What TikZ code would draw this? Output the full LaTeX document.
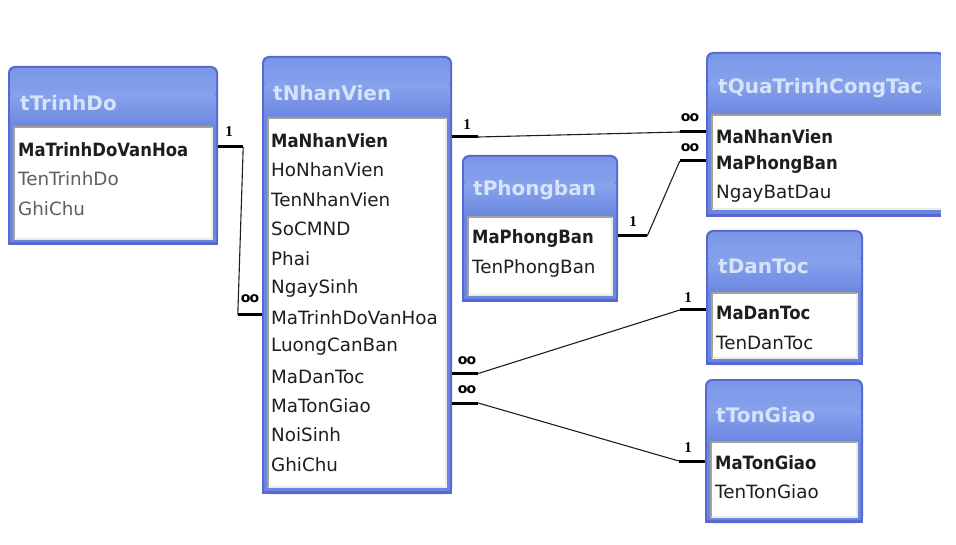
\documentclass[tikz,border=0pt]{standalone}
\usepackage{fontspec}
\newfontfamily\dv{DejaVu Sans}
\newfontfamily\lserif{Liberation Serif}
\definecolor{boxedge}{RGB}{88,104,208}
\definecolor{boxblue}{RGB}{108,134,224}
\definecolor{titletop}{RGB}{122,150,232}
\definecolor{titlemid}{RGB}{134,162,236}
\definecolor{titletxt}{RGB}{214,228,250}
\definecolor{insetgray}{RGB}{165,160,145}
\definecolor{insetlight}{RGB}{236,236,226}
\definecolor{fieldtxt}{RGB}{30,30,30}
\definecolor{fieldgray}{RGB}{95,95,95}
\definecolor{linkcol}{RGB}{30,30,30}
\tikzset{
  ttl/.style={anchor=west, inner sep=0pt, text=titletxt, font=\dv\bfseries\fontsize{20}{22}\selectfont},
  fld/.style={anchor=west, inner sep=0pt, text=fieldtxt, font=\dv\fontsize{18.3}{20}\selectfont},
  fldg/.style={fld, text=fieldgray},
  stub/.style={line width=3pt, black},
  link/.style={line width=1.1pt, linkcol},
  one/.style={inner sep=0pt, font=\lserif\bfseries\fontsize{15}{15}\selectfont},
  many/.style={inner sep=0pt, font=\dv\bfseries\fontsize{14}{14}\selectfont},
}
% #1 name, #2 x1, #3 y1, #4 x2, #5 y2, #6 inner x1, #7 inner y1, #8 inner x2, #9 inner y2
\newcommand\dbtable[9]{%
  \fill[boxedge, rounded corners=7pt] (#2,#3) rectangle (#4,#5);
  \fill[boxedge] (#2,{#5-12}) rectangle (#4,#5);
  \fill[boxblue, rounded corners=6pt] ({#2+2},{#3+2}) rectangle ({#4-2},{#5-3});
  \fill[boxblue] ({#2+2},{#5-12}) rectangle ({#4-2},{#5-3});
  \shade[top color=titletop, bottom color=titlemid, rounded corners=6pt] ({#2+2},{#3+2}) rectangle ({#4-2},{(#3+#7)/2});
  \shade[top color=titlemid, bottom color=boxblue] ({#2+2},{(#3+#7)/2-1}) rectangle ({#4-2},{#7});
  \fill[white] (#6,#7) rectangle (#8,#9);
  \draw[insetlight, line width=1.5pt] (#6,#9) -- (#8,#9) -- (#8,#7);
  \draw[insetgray, line width=2pt] (#6,#9) -- (#6,#7) -- (#8,#7);
  \node[minimum width={(#4-#2)*1pt}, minimum height={(#5-#3)*1pt}, inner sep=0pt] (#1) at ({(#2+#4)/2},{(#3+#5)/2}) {};
}
\newcommand\keyf[1]{\scalebox{0.9}[1]{\bfseries #1}}
\newcommand\manysym{o\kern-0.8pt o}
\begin{document}
\begin{tikzpicture}[x=1pt,y=-1pt]
\useasboundingbox (0,0) rectangle (956,545);

% tables
\dbtable{tdo}{8}{66}{218}{245}{14}{127}{212}{239}
\dbtable{nv}{262}{56}{452}{494}{268}{118}{446}{487}
\dbtable{qt}{706}{52}{945}{217}{712}{115}{945}{209}
\dbtable{pb}{462}{155}{618}{302}{468}{217}{612}{295}
\dbtable{dt}{706}{230}{863}{365}{712}{293}{857}{358}
\dbtable{tg}{705}{379}{863}{523}{711}{442}{857}{517}
\fill[white] (941,40) rectangle (956,230);

% titles
\node[ttl] (tdo-t) at (20,103) {tTrinhDo};
\node[ttl] (nv-t) at (273,93) {tNhanVien};
\node[ttl] (qt-t) at (718,88) {tQuaTrinhCongTac};
\node[ttl] (pb-t) at (473,190) {tPhongban};
\node[ttl] (dt-t) at (718,266) {tDanToc};
\node[ttl] (tg-t) at (716,415) {tTonGiao};

% fields tTrinhDo
\node[fld] (tdo1) at (18,150) {\keyf{MaTrinhDoVanHoa}};
\node[fldg] (tdo2) at (18,179) {TenTrinhDo};
\node[fldg] (tdo3) at (18,209) {GhiChu};

% fields tNhanVien
\node[fld] (nv1) at (271,141) {\keyf{MaNhanVien}};
\node[fld] (nv2) at (271,170) {HoNhanVien};
\node[fld] (nv3) at (271,199.5) {TenNhanVien};
\node[fld] (nv4) at (271,229) {SoCMND};
\node[fld] (nv5) at (271,258.5) {Phai};
\node[fld] (nv6) at (271,288) {NgaySinh};
\node[fld] (nv7) at (271,318) {MaTrinhDoVanHoa};
\node[fld] (nv8) at (271,347) {LuongCanBan};
\node[fld] (nv9) at (271,376.5) {MaDanToc};
\node[fld] (nv10) at (271,406) {MaTonGiao};
\node[fld] (nv11) at (271,435) {NoiSinh};
\node[fld] (nv12) at (271,464.5) {GhiChu};

% fields tQuaTrinhCongTac
\node[fld] (qt1) at (716,137) {\keyf{MaNhanVien}};
\node[fld] (qt2) at (716,165) {\keyf{MaPhongBan}};
\node[fld] (qt3) at (716,194) {NgayBatDau};

% fields tPhongban
\node[fld] (pb1) at (472,239) {\keyf{MaPhongBan}};
\node[fld] (pb2) at (472,268) {TenPhongBan};

% fields tDanToc
\node[fld] (dt1) at (716,313) {\keyf{MaDanToc}};
\node[fld] (dt2) at (716,343) {TenDanToc};

% fields tTonGiao
\node[fld] (tg1) at (715,463) {\keyf{MaTonGiao}};
\node[fld] (tg2) at (715,492) {TenTonGiao};

% relation: tTrinhDo -> tNhanVien
\draw[stub] ([yshift=3pt]tdo1 -| tdo.east) -- ++(25,0) coordinate (c1a);
\draw[stub] ([yshift=3pt]nv7 -| nv.west) -- ++(-24,0) coordinate (c1b);
\draw[link] (c1a) -- (c1b);
\node[one] (l1a) at (229,132) {1};
\node[many] (l1b) at (250,299) {\manysym};

% relation: tNhanVien -> tQuaTrinhCongTac (MaNhanVien)
\draw[stub] ([yshift=4pt]nv1 -| nv.east) -- ++(26,0) coordinate (c2a);
\draw[stub] ([yshift=5pt]qt1 -| qt.west) -- ++(-26,0) coordinate (c2b);
\draw[link] (c2a) -- (c2b);
\node[one] (l2a) at (467,125) {1};
\node[many] (l2b) at (690,118) {\manysym};

% relation: tPhongban -> tQuaTrinhCongTac (MaPhongBan)
\draw[stub] ([yshift=3pt]pb1 -| pb.east) -- ++(29,0) coordinate (c3a);
\draw[stub] ([yshift=4pt]qt2 -| qt.west) -- ++(-26,0) coordinate (c3b);
\draw[link] (c3a) -- (c3b);
\node[one] (l3a) at (633,222) {1};
\node[many] (l3b) at (690,148) {\manysym};

% relation: tNhanVien -> tDanToc
\draw[stub] ([yshift=3pt]nv9 -| nv.east) -- ++(26,0) coordinate (c4a);
\draw[stub] ([yshift=3pt]dt1 -| dt.west) -- ++(-26,0) coordinate (c4b);
\draw[link] (c4a) -- (c4b);
\node[many] (l4a) at (467,361) {\manysym};
\node[one] (l4b) at (688,298) {1};

% relation: tNhanVien -> tTonGiao
\draw[stub] ([yshift=3pt]nv10 -| nv.east) -- ++(26,0) coordinate (c5a);
\draw[stub] ([yshift=2pt]tg1 -| tg.west) -- ++(-26,0) coordinate (c5b);
\draw[link] (c5a) -- (c5b);
\node[many] (l5a) at (467,390) {\manysym};
\node[one] (l5b) at (688,448) {1};
\end{tikzpicture}
\end{document}
